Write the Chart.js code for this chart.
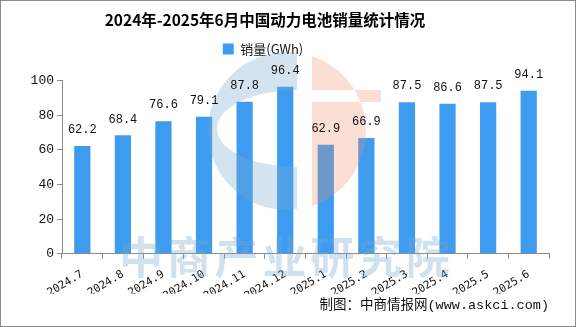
<!DOCTYPE html>
<html>
<head>
<meta charset="utf-8">
<script src="https://cdn.jsdelivr.net/npm/chart.js@4"></script>
<style>
  html, body { margin: 0; padding: 0; background: #fff; }
  .box { width: 576px; height: 327px; box-sizing: border-box; border: 1px solid #8a8a8a; }
  canvas { display: block; }
</style>
</head>
<body>
<div class="box"><canvas id="myChart" width="574" height="325"></canvas></div>
<script>
const ctx = document.getElementById('myChart');

var labelData = ['2024.7', '2024.8', '2024.9', '2024.10', '2024.11', '2024.12',
                 '2025.1', '2025.2', '2025.3', '2025.4', '2025.5', '2025.6'];
var salesData = [62.2, 68.4, 76.6, 79.1, 87.8, 96.4, 62.9, 66.9, 87.5, 86.6, 87.5, 94.1];
var yTicks = [0, 20, 40, 60, 80, 100];

var barColor = '#3d9cf0';
var axisColor = '#8c8c8c';
var numFont = '"Liberation Mono", "Noto Sans CJK SC", monospace';
var tickFont = '"DejaVu Sans Mono", monospace';
var cjkFont = '"Noto Sans CJK SC", sans-serif';

Chart.defaults.color = '#111';
Chart.defaults.font.family = numFont;

// fixed legend height + nudge title/legend a bit left of center
const blockFix = {
  id: 'blockFix',
  beforeLayout(chart) {
    const lg = chart.legend;
    if (lg && !lg._fixed) {
      const fit = lg.fit;
      lg.fit = function () {
        fit.call(this);
        this.height = 42;
      };
      lg._fixed = true;
    }
  },
  afterLayout(chart) {
    chart.titleBlock.left -= 14;
    chart.titleBlock.right -= 14;
    chart.legend.left -= 16;
    chart.legend.right -= 16;
  }
};

// logo + company name watermark, over the bars
const watermark = {
  id: 'watermark',
  afterDatasetsDraw(chart) {
    const c = chart.ctx;
    const cx = 286, cy = 130, r = 79;
    c.save();

    // blue "C"
    c.save();
    c.beginPath();
    c.rect(cx - r - 2, cy - r - 2, 296 - (cx - r - 2), 2 * r + 4);
    c.clip();
    c.beginPath();
    c.arc(cx, cy, r, 0, Math.PI * 2);
    c.ellipse(296, 127.5, 80, 38.5, 0, 0, Math.PI * 2, true);
    c.fillStyle = 'rgba(120, 170, 205, 0.33)';
    c.fill('evenodd');
    c.restore();

    // salmon right half with a white cut
    c.save();
    c.beginPath();
    c.rect(311, cy - r - 2, r + 4, 2 * r + 4);
    c.clip();
    c.beginPath();
    c.arc(cx, cy, r, 0, Math.PI * 2);
    c.rect(300, 89, 80, 12);
    c.fillStyle = 'rgba(240, 140, 100, 0.28)';
    c.fill('evenodd');
    c.restore();

    // name
    c.fillStyle = 'rgba(120, 170, 205, 0.34)';
    c.font = 'bold 44px ' + cjkFont;
    c.textBaseline = 'middle';
    var name = '中商产业研究院';
    for (var i = 0; i < name.length; i++) {
      c.fillText(name[i], 118 + i * 47.8, 256);
    }
    c.restore();
  }
};

// value text above each bar
const barValues = {
  id: 'barValues',
  afterDatasetsDraw(chart) {
    const c = chart.ctx;
    const meta = chart.getDatasetMeta(0);
    c.save();
    c.fillStyle = '#111';
    c.font = '12px ' + numFont;
    c.textAlign = 'center';
    c.textBaseline = 'bottom';
    meta.data.forEach(function (bar, i) {
      c.fillText(salesData[i].toFixed(1), bar.x, bar.y - 10);
    });
    c.restore();
  }
};

new Chart(ctx, {
  type: 'bar',
  data: {
    labels: labelData,
    datasets: [{
      label: '销量(GWh)',
      data: salesData,
      backgroundColor: barColor,
      borderWidth: 0,
      categoryPercentage: 1,
      barPercentage: 0.4
    }]
  },
  plugins: [blockFix, watermark, barValues],
  options: {
    responsive: false,
    animation: false,
    layout: { padding: { left: 8, right: 26, top: 0, bottom: 0 } },
    plugins: {
      title: {
        display: true,
        text: '2024年-2025年6月中国动力电池销量统计情况',
        font: { family: cjkFont, size: 15.5, weight: 'bold' },
        color: '#000',
        padding: { top: 10, bottom: 9 }
      },
      legend: {
        display: true,
        labels: {
          boxWidth: 11,
          boxHeight: 11,
          font: { family: cjkFont, size: 13 },
          color: '#111',
          padding: 4
        }
      },
      subtitle: {
        display: true,
        position: 'bottom',
        align: 'end',
        text: '制图：中商情报网(www.askci.com)',
        font: { family: numFont, size: 13.5 },
        color: '#111',
        padding: { top: 4, bottom: 12 }
      },
      tooltip: { enabled: false }
    },
    scales: {
      y: {
        min: 0,
        max: 100,
        afterBuildTicks: function (axis) {
          axis.ticks = yTicks.map(function (v) { return { value: v }; });
        },
        afterFit: function (axis) { axis.width = 53; },
        border: { display: true, color: axisColor, width: 1 },
        grid: { drawOnChartArea: false, drawTicks: true, tickLength: 5, tickColor: axisColor },
        ticks: { font: { size: 13, family: numFont }, color: '#111', padding: 3 }
      },
      x: {
        afterFit: function (axis) { axis.height = 40; },
        border: { display: true, color: axisColor, width: 1 },
        grid: { offset: true, drawOnChartArea: false, drawTicks: true, tickLength: 5, tickColor: axisColor },
        ticks: {
          minRotation: 31,
          maxRotation: 31,
          autoSkip: false,
          font: { size: 11, family: tickFont },
          color: '#111',
          padding: 9
        }
      }
    }
  }
});
</script>
</body>
</html>
